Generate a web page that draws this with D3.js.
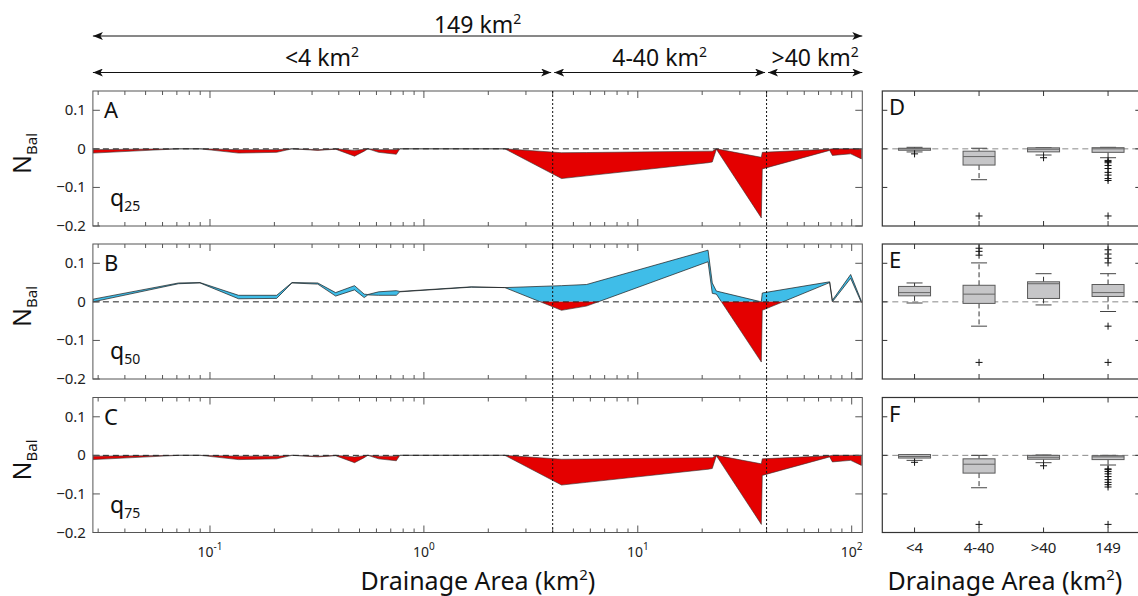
<!DOCTYPE html>
<html>
<head>
<meta charset="utf-8">
<script src="https://cdn.jsdelivr.net/npm/d3@7"></script>
<style>
body{margin:0;background:#fff}
svg{display:block;font-family:"Noto Sans",sans-serif}
</style>
</head>
<body>
<svg id="fig" width="1138" height="596"></svg>
<script>
// drainage area (km2) of every vertex along the profile
const area = [0.0284,0.0713,0.0898,0.136,0.205,0.2416,0.319,0.3867,0.474,0.526,0.547,0.614,0.743,0.772,1.665,2.39,4.40,5.76,21.3,22.3,23.3,37.8,38.2,78.9,81.2,98.9,111];

// N_Bal envelopes (upper / lower) for each discharge quantile
const q25Hi = [-0.002,0,0,-0.002,-0.002,0,-0.002,0,-0.004,-0.001,0,-0.002,-0.002,0,0,0,-0.010,-0.0095,-0.006,-0.006,0,-0.022,-0.009,-0.001,0,0,0];
const q25Lo = [-0.011,0,0,-0.011,-0.009,0,-0.004,-0.001,-0.019,-0.006,0,-0.009,-0.014,0,0,0,-0.077,-0.070,-0.036,-0.034,-0.001,-0.179,-0.052,-0.004,-0.017,-0.013,-0.026];
const q50Hi = [0.007,0.049,0.050,0.017,0.017,0.050,0.049,0.024,0.042,0.020,0.019,0.026,0.029,0.027,0.039,0.037,0.042,0.045,0.134,0.049,0.028,0.000,0.023,0.052,0.004,0.071,0.002];
const q50Lo = [0.000,0.047,0.049,0.008,0.009,0.049,0.046,0.015,0.031,0.011,0.018,0.017,0.017,0.026,0.038,0.037,-0.022,-0.011,0.104,0.022,0.020,-0.156,-0.022,0.050,0.000,0.061,-0.002];
const q75Hi = [-0.002,0,0,-0.002,-0.002,0,-0.002,0,-0.004,-0.001,0,-0.002,-0.002,0,0,0,-0.010,-0.0095,-0.006,-0.006,0,-0.022,-0.009,-0.001,0,0,0];
const q75Lo = [-0.011,0,0,-0.011,-0.009,0,-0.004,-0.001,-0.019,-0.006,0,-0.009,-0.014,0,0,0,-0.077,-0.070,-0.036,-0.034,-0.001,-0.179,-0.052,-0.004,-0.017,-0.013,-0.026];

// box plot groups
const boxCats = ["<4","4-40",">40","149"];
const boxQ25 = [
  {lo:-0.008, q1:-0.0036, med:0,      q3:0.0016, hi:0.004,  out:[-0.013]},
  {lo:-0.080, q1:-0.042,  med:-0.020, q3:-0.006, hi:0.0016, out:[-0.174]},
  {lo:-0.016, q1:-0.0078, med:-0.001, q3:0.0026, hi:0.003,  out:[-0.023]},
  {lo:-0.023, q1:-0.009,  med:0,      q3:0.003,  hi:0.004,  out:[-0.030,-0.033,-0.036,-0.043,-0.051,-0.061,-0.068,-0.077,-0.082,-0.174]}
];
const boxQ50 = [
  {lo:-0.003, q1:0.0156, med:0.024, q3:0.040, hi:0.049, out:[]},
  {lo:-0.063, q1:-0.004, med:0.020, q3:0.043, hi:0.101, out:[0.121,0.131,0.139,-0.157]},
  {lo:-0.008, q1:0.0088, med:0.047, q3:0.052, hi:0.073, out:[]},
  {lo:-0.025, q1:0.014,  med:0.024, q3:0.045, hi:0.073, out:[0.101,0.113,0.124,0.135,-0.063,-0.157]}
];
const boxQ75 = [
  {lo:-0.013, q1:-0.007, med:-0.003, q3:0.002,  hi:0.001, out:[-0.018]},
  {lo:-0.084, q1:-0.046, med:-0.023, q3:-0.009, hi:0,     out:[-0.179]},
  {lo:-0.019, q1:-0.010, med:-0.005, q3:0,      hi:0.001, out:[-0.027]},
  {lo:-0.025, q1:-0.011, med:-0.004, q3:-0.001, hi:0,     out:[-0.035,-0.037,-0.042,-0.048,-0.055,-0.063,-0.070,-0.076,-0.082,-0.179]}
];

const yTicks = [0.1, 0, -0.1, -0.2];
const xPowers = [-1, 0, 1, 2];
const xMin = 0.02835, xMax = 112.1;
const spans = [
  {lab:"149", a:xMin, b:xMax, row:0},
  {lab:"<4", a:xMin, b:4, row:1},
  {lab:"4-40", a:4, b:40, row:1},
  {lab:">40", a:40, b:xMax, row:1}
];

const blue = "#3fbde8", red = "#e40000", axisCol = "#555";

//////////////////////// layout ////////////////////////
const left = 92.9, right = 862.3, boxL = 882.3, boxR = 1140.3;
const panelTop = [91, 244, 397.5], panelH = 135;

const svg = d3.select("#fig");
const defs = svg.append("defs");

const x = d3.scaleLog().domain([xMin, xMax]).range([left, right]);
const xb = d3.scaleLinear().domain([0.5, 4.5]).range([boxL, boxR]);

// minor + major ticks for log axis
let logTicks = [];
for (let d = -2; d <= 2; d++) {
  for (let k = 1; k <= 9; k++) {
    const v = k * Math.pow(10, d);
    if (v >= xMin && v <= xMax) logTicks.push({v, major: k == 1});
  }
}

const yOf = (top) => d3.scaleLinear().domain([-0.2, 0.15]).range([top + panelH, top]);

// NBal label on the left
const yLabel = (cy) => {
  const t = svg.append("text")
    .attr("transform", `translate(31,${cy}) rotate(-90)`)
    .attr("text-anchor", "middle")
    .attr("font-size", 25).attr("fill", "#111");
  t.append("tspan").text("N");
  t.append("tspan").attr("font-size", 15).attr("dy", 6).text("Bal");
};

const drawLogPanel = (top, hi, lo, letter, qsub, idx, lastRow) => {
  const y = yOf(top);
  const g = svg.append("g");
  const data = area.map((a, i) => ({a, hi: hi[i], lo: lo[i]}));
  const gen = d3.area().x(d => x(d.a)).y0(d => y(d.lo)).y1(d => y(d.hi));

  defs.append("clipPath").attr("id", "pos" + idx).append("rect")
    .attr("x", left).attr("y", top).attr("width", right - left).attr("height", y(0) - top);
  defs.append("clipPath").attr("id", "neg" + idx).append("rect")
    .attr("x", left).attr("y", y(0)).attr("width", right - left).attr("height", top + panelH - y(0));

  g.append("path").datum(data).attr("d", gen).attr("fill", blue)
    .attr("stroke", "#1a1a1a").attr("stroke-width", 0.7).attr("stroke-linejoin", "round")
    .attr("clip-path", `url(#pos${idx})`);
  g.append("path").datum(data).attr("d", gen).attr("fill", red)
    .attr("stroke", "#333").attr("stroke-width", 0.6).attr("stroke-linejoin", "round")
    .attr("clip-path", `url(#neg${idx})`);

  // zero line
  g.append("line").attr("x1", left).attr("x2", right).attr("y1", y(0)).attr("y2", y(0))
    .attr("stroke", "#222").attr("stroke-width", 1).attr("stroke-dasharray", "6,4");

  // frame
  g.append("rect").attr("x", left).attr("y", top).attr("width", right - left).attr("height", panelH)
    .attr("fill", "none").attr("stroke", axisCol).attr("stroke-width", 1);

  // x ticks (inward, top + bottom)
  g.selectAll(".xt").data(logTicks).join("path")
    .attr("d", d => {
      const len = d.major ? 7 : 4, px = x(d.v);
      return `M${px},${top + panelH}v${-len}M${px},${top}v${len}`;
    })
    .attr("stroke", axisCol).attr("stroke-width", 1);

  // y ticks (inward, left + right)
  g.selectAll(".yt").data(yTicks).join("path")
    .attr("d", d => `M${left},${y(d)}h7M${right},${y(d)}h-7`)
    .attr("stroke", axisCol).attr("stroke-width", 1);

  g.selectAll(".yl").data(yTicks).join("text")
    .attr("x", left - 7).attr("y", d => y(d) + 5)
    .attr("text-anchor", "end").attr("font-size", 15).attr("fill", "#222")
    .text(d => d == 0 ? "0" : d3.format(".1f")(d));

  g.append("text").attr("x", 104).attr("y", top + 27).attr("font-size", 22).attr("fill", "#111").text(letter);

  const q = g.append("text").attr("x", 110).attr("y", top + 115).attr("font-size", 23).attr("fill", "#111");
  q.append("tspan").text("q");
  q.append("tspan").attr("font-size", 14).attr("dy", 5).text(qsub);

  yLabel(top + panelH / 2 - 5);

  if (lastRow) {
    xPowers.forEach(p => {
      const t = g.append("text").attr("x", x(Math.pow(10, p))).attr("y", top + panelH + 24)
        .attr("text-anchor", "middle").attr("font-size", 14).attr("fill", "#222");
      t.append("tspan").text("10");
      t.append("tspan").attr("font-size", 10).attr("dy", -7).text(p);
    });
  }
};

const drawBoxPanel = (top, stats, letter, lastRow) => {
  const y = yOf(top);
  const g = svg.append("g");
  const bw = 32, cw = 16;

  g.append("line").attr("x1", boxL).attr("x2", boxR).attr("y1", y(0)).attr("y2", y(0))
    .attr("stroke", "#888").attr("stroke-width", 1).attr("stroke-dasharray", "6,4");

  stats.forEach((s, i) => {
    const cx = xb(i + 1);
    // whiskers
    g.append("path").attr("d", `M${cx},${y(s.q3)}V${y(s.hi)}M${cx},${y(s.q1)}V${y(s.lo)}`)
      .attr("stroke", "#333").attr("stroke-width", 1).attr("stroke-dasharray", "5,3");
    g.append("path").attr("d", `M${cx - cw / 2},${y(s.hi)}h${cw}M${cx - cw / 2},${y(s.lo)}h${cw}`)
      .attr("stroke", "#444").attr("stroke-width", 1);
    g.append("rect").attr("x", cx - bw / 2).attr("y", y(s.q3)).attr("width", bw)
      .attr("height", Math.max(1, y(s.q1) - y(s.q3)))
      .attr("fill", "#c6c6c8").attr("stroke", "#5a5a5a").attr("stroke-width", 1);
    g.append("line").attr("x1", cx - bw / 2).attr("x2", cx + bw / 2).attr("y1", y(s.med)).attr("y2", y(s.med))
      .attr("stroke", "#666").attr("stroke-width", 1);
    g.selectAll(null).data(s.out).join("path")
      .attr("d", v => `M${cx - 3.5},${y(v)}h7M${cx},${y(v) - 3.5}v7`)
      .attr("stroke", "#111").attr("stroke-width", 1);
  });

  g.append("rect").attr("x", boxL).attr("y", top).attr("width", boxR - boxL).attr("height", panelH)
    .attr("fill", "none").attr("stroke", "#333").attr("stroke-width", 1.2);

  g.selectAll(".bt").data(boxCats).join("path")
    .attr("d", (d, i) => `M${xb(i + 1)},${top}v5M${xb(i + 1)},${top + panelH}v-5`)
    .attr("stroke", "#333").attr("stroke-width", 1);
  g.selectAll(".byt").data(yTicks.slice(0, 3)).join("path")
    .attr("d", d => `M${boxL},${y(d)}h5M${boxR},${y(d)}h-5`)
    .attr("stroke", "#333").attr("stroke-width", 1);

  g.append("text").attr("x", 889).attr("y", top + 24).attr("font-size", 22).attr("fill", "#111").text(letter);

  if (lastRow) {
    g.selectAll(".bl").data(boxCats).join("text")
      .attr("x", (d, i) => xb(i + 1)).attr("y", top + panelH + 20)
      .attr("text-anchor", "middle").attr("font-size", 15).attr("fill", "#222")
      .text(d => d);
  }
};

drawLogPanel(panelTop[0], q25Hi, q25Lo, "A", "25", 0, false);
drawLogPanel(panelTop[1], q50Hi, q50Lo, "B", "50", 1, false);
drawLogPanel(panelTop[2], q75Hi, q75Lo, "C", "75", 2, true);

drawBoxPanel(panelTop[0], boxQ25, "D", false);
drawBoxPanel(panelTop[1], boxQ50, "E", false);
drawBoxPanel(panelTop[2], boxQ75, "F", true);

// dotted separators at 4 and 40 km2
[4, 40].forEach(v => {
  svg.append("line").attr("x1", x(v)).attr("x2", x(v))
    .attr("y1", panelTop[0]).attr("y2", panelTop[2] + panelH)
    .attr("stroke", "#111").attr("stroke-width", 1).attr("stroke-dasharray", "2,2");
});

// top range arrows
defs.append("marker").attr("id", "ah").attr("viewBox", "0 0 10 8")
  .attr("refX", 10).attr("refY", 4).attr("markerWidth", 10).attr("markerHeight", 8)
  .attr("markerUnits", "userSpaceOnUse").attr("orient", "auto-start-reverse")
  .append("path").attr("d", "M0,0L10,4L0,8L2.5,4Z").attr("fill", "#111");

const rowY = [36, 72.5], rowBase = [33, 66];
spans.forEach(s => {
  const x1 = x(s.a) + (s.a == 4 || s.a == 40 ? 1.5 : 0);
  const x2 = x(s.b) - (s.b == 4 || s.b == 40 ? 1.5 : 0);
  svg.append("line").attr("x1", x1).attr("x2", x2).attr("y1", rowY[s.row]).attr("y2", rowY[s.row])
    .attr("stroke", "#111").attr("stroke-width", 1)
    .attr("marker-start", "url(#ah)").attr("marker-end", "url(#ah)");
  const t = svg.append("text").attr("x", (x1 + x2) / 2).attr("y", rowBase[s.row])
    .attr("text-anchor", "middle").attr("font-size", 23).attr("fill", "#111");
  t.append("tspan").text(s.lab + " km");
  t.append("tspan").attr("font-size", 14).attr("dy", -9).text("2");
});

// x axis titles
const xTitle = (cx) => {
  const t = svg.append("text").attr("x", cx).attr("y", 590)
    .attr("text-anchor", "middle").attr("font-size", 25).attr("fill", "#111");
  t.append("tspan").text("Drainage Area (km");
  t.append("tspan").attr("font-size", 15).attr("dy", -10).text("2");
  t.append("tspan").attr("dy", 10).text(")");
};
xTitle(478);
xTitle(1005);
</script>
</body>
</html>
